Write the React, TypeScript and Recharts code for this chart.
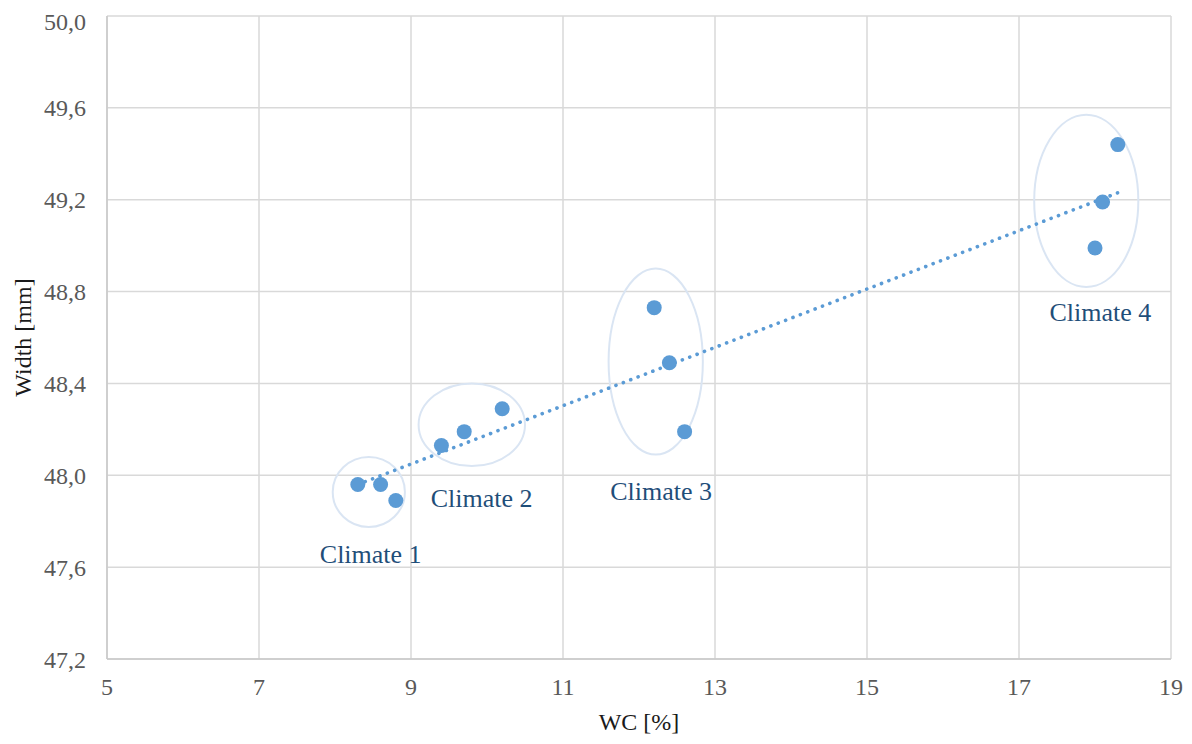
import React from "react";
import {
  ScatterChart,
  Scatter,
  XAxis,
  YAxis,
  CartesianGrid,
  ReferenceArea,
  ReferenceDot,
} from "recharts";

// WC [%] and Width [mm] for each sample
const wc = [8.3, 8.6, 8.8, 9.4, 9.7, 10.2, 12.2, 12.4, 12.6, 18.0, 18.1, 18.3];
const width = [47.96, 47.96, 47.89, 48.13, 48.19, 48.29, 48.73, 48.49, 48.19, 48.99, 49.19, 49.44];

// linear trendline end points
const trendX = [8.3, 18.3];
const trendY = [47.96, 49.23];

const xTicks = [5, 7, 9, 11, 13, 15, 17, 19];
const yTicks = [47.2, 47.6, 48.0, 48.4, 48.8, 49.2, 49.6, 50.0];

// groups: ellipse bounds and label anchor in data units
const groupNames = ["Climate 1", "Climate 2", "Climate 3", "Climate 4"];
const groupX1 = [7.97, 9.1, 11.6, 17.2];
const groupX2 = [8.92, 10.5, 12.84, 18.57];
const groupY1 = [47.775, 48.04, 48.09, 48.82];
const groupY2 = [48.08, 48.4, 48.9, 49.57];
const labelX = [8.47, 9.93, 12.29, 18.07];
const labelY = [47.653, 47.9, 47.93, 48.71];

const points = wc.map((x, i) => ({ x, y: width[i] }));
const trend = trendX.map((x, i) => ({ x, y: trendY[i] }));

const BLUE = "#5B9BD5";
const FONT = "'Liberation Serif', 'Times New Roman', serif";

const fmt = (v: number) => v.toFixed(1).replace(".", ",");

const Ellipse = (props: any) => {
  const { x, y, width: w, height: h } = props;
  return (
    <ellipse
      cx={x + w / 2}
      cy={y + h / 2}
      rx={w / 2}
      ry={h / 2}
      fill="none"
      stroke="#DAE5F3"
      strokeWidth={2}
    />
  );
};

export default function App() {
  return (
    <ScatterChart
      width={1184}
      height={736}
      margin={{ top: 8, right: 21, bottom: 0, left: 0 }}
      style={{ fontFamily: FONT }}
    >
      <CartesianGrid stroke="#D9D9D9" strokeWidth={1.5} />
      <XAxis
        type="number"
        dataKey="x"
        domain={[5, 19]}
        ticks={xTicks}
        height={85}
        axisLine={{ stroke: "#C8C8C8", strokeWidth: 1.5 }}
        tickLine={false}
        tickSize={0}
        tickMargin={19}
        tick={{ fill: "#595959", fontSize: 24, fontFamily: FONT }}
        label={{
          value: "WC [%]",
          position: "insideBottom",
          offset: 14,
          style: { fill: "#1A1A1A", fontSize: 24, fontFamily: FONT },
        }}
      />
      <YAxis
        type="number"
        dataKey="y"
        domain={[47.2, 50]}
        ticks={yTicks}
        width={99}
        axisLine={{ stroke: "#C8C8C8", strokeWidth: 1.5 }}
        tickLine={false}
        tickSize={0}
        tickMargin={21}
        tickFormatter={fmt}
        tick={{ fill: "#595959", fontSize: 24, fontFamily: FONT }}
        label={{
          value: "Width [mm]",
          angle: -90,
          position: "insideLeft",
          offset: 14,
          style: { textAnchor: "middle", fill: "#1A1A1A", fontSize: 24, fontFamily: FONT },
        }}
      />
      {groupNames.map((name, i) => (
        <ReferenceArea
          key={name}
          x1={groupX1[i]}
          x2={groupX2[i]}
          y1={groupY1[i]}
          y2={groupY2[i]}
          shape={<Ellipse />}
        />
      ))}
      <Scatter
        data={trend}
        line={{
          stroke: BLUE,
          strokeWidth: 3.6,
          strokeDasharray: "0.1 7.8",
          strokeLinecap: "round",
        }}
        shape={() => null}
        isAnimationActive={false}
      />
      <Scatter data={points} fill={BLUE} isAnimationActive={false} shape={(p: any) => (
        <circle cx={p.cx} cy={p.cy} r={7.5} fill={BLUE} />
      )} />
      {groupNames.map((name, i) => (
        <ReferenceDot
          key={name + "-label"}
          x={labelX[i]}
          y={labelY[i]}
          shape={(p: any) => (
            <text
              x={p.cx}
              y={p.cy}
              textAnchor="middle"
              dominantBaseline="central"
              fill="#1F4E79"
              fontSize={26}
              fontFamily={FONT}
            >
              {name}
            </text>
          )}
        />
      ))}
    </ScatterChart>
  );
}
